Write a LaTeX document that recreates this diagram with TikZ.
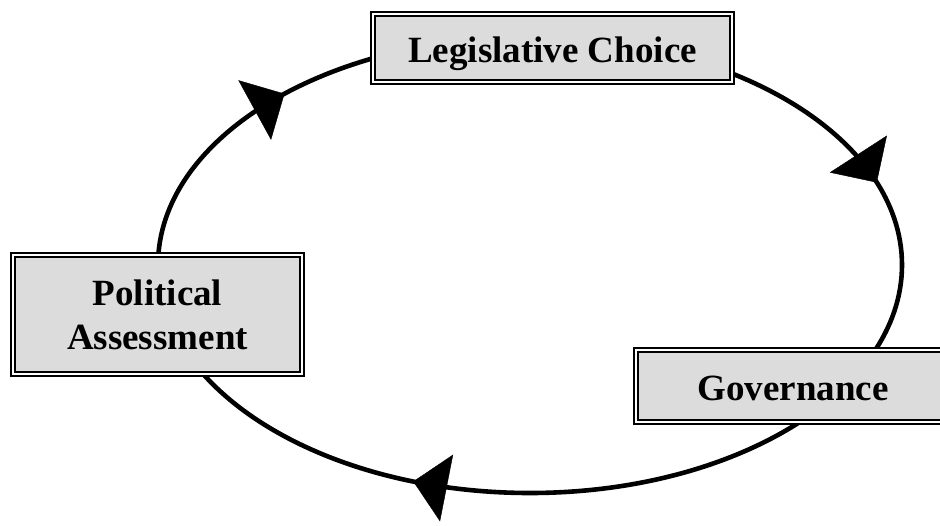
\documentclass[tikz,border=0pt]{standalone}
\usepackage{fontspec}
\setmainfont{Liberation Serif}
\usetikzlibrary{calc,arrows.meta}
\definecolor{boxgray}{RGB}{220,220,220}
\tikzset{
  stagebox/.style={draw=black, fill=boxgray, line width=2.2pt, double=white, double distance=1.6pt,
    inner sep=0pt, font=\fontsize{37}{44}\selectfont\bfseries, align=center},
  oneline/.style={text height=31pt, text depth=2pt},
  cycleline/.style={line width=4.6pt},
  headtip/.style={draw, line width=0.4pt, -{Triangle[length=34pt,width=68pt]}}
}
\begin{document}
\begin{tikzpicture}[x=1pt,y=-1pt]
\useasboundingbox (0,0) rectangle (940,525);
\clip (0,0) rectangle (940,525);
\coordinate (c) at (530,265);
\draw[cycleline] (c) ellipse [x radius=372pt, y radius=228pt];
% arrowheads
\coordinate (s1) at ($(c)+({372*cos(-132.3)},{228*sin(-132.3)})$);
\coordinate (t1) at ($(c)+({372*cos(-131.3)},{228*sin(-131.3)})$);
\coordinate (s2) at ($(c)+({372*cos(-22.2)},{228*sin(-22.2)})$);
\coordinate (t2) at ($(c)+({372*cos(-21.2)},{228*sin(-21.2)})$);
\coordinate (s3) at ($(c)+({372*cos(107.3)},{228*sin(107.3)})$);
\coordinate (t3) at ($(c)+({372*cos(108.3)},{228*sin(108.3)})$);
\draw[headtip] (s1) -- (t1);
\draw[headtip] (s2) -- (t2);
\draw[headtip] (s3) -- (t3);
% boxes
\node[stagebox, oneline, minimum width=359pt, minimum height=68pt] (lc) at (552.5,48) {Legislative Choice};
\node[stagebox, minimum width=289pt, minimum height=119pt] (pa) at (157.5,314.5) {Political\\Assessment};
\node[stagebox, oneline, minimum width=314pt, minimum height=72pt] (gov) at (793,386) {Governance};
\end{tikzpicture}
\end{document}
